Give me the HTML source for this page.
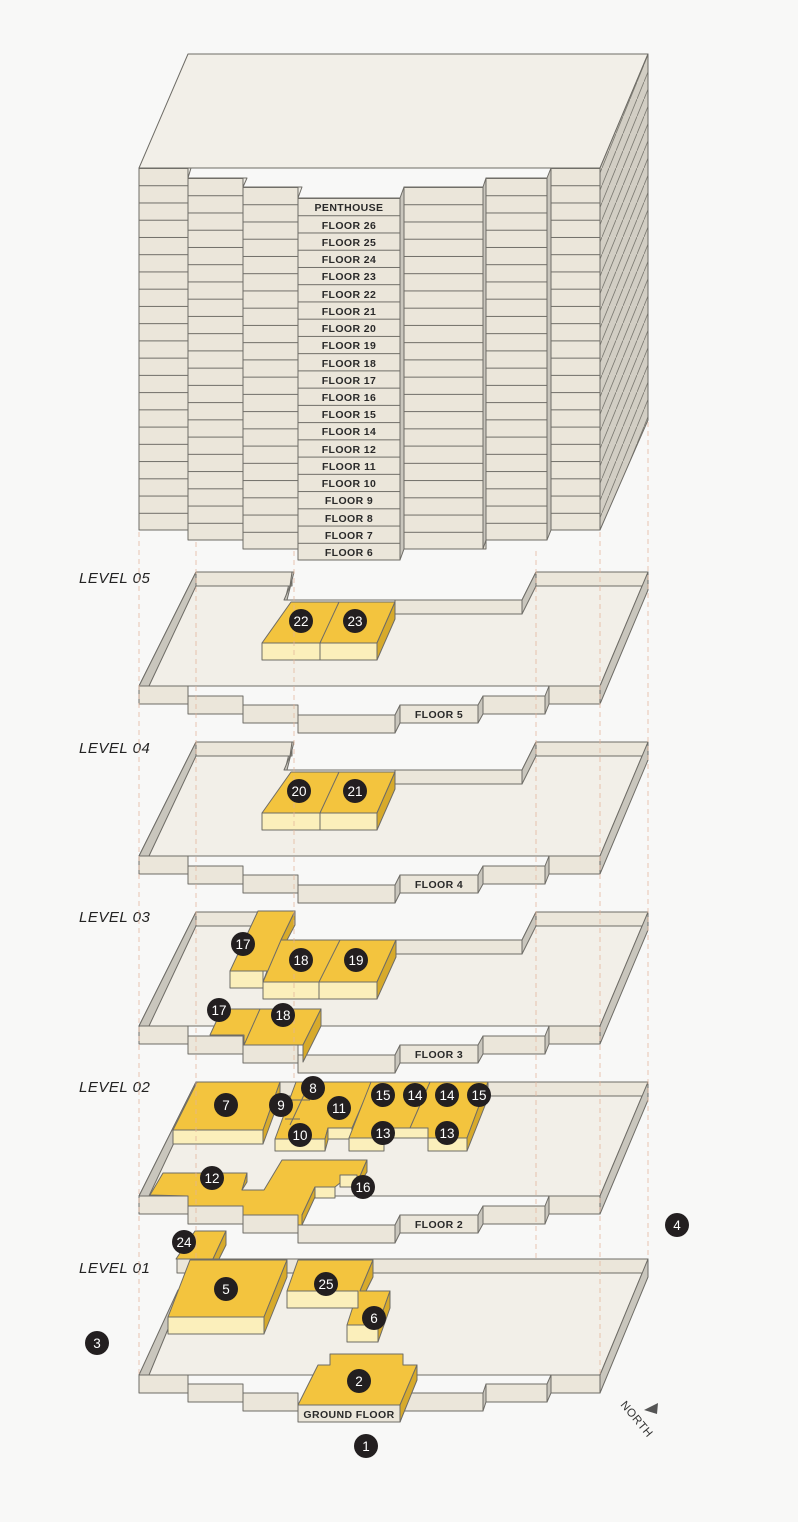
<!DOCTYPE html>
<html><head><meta charset="utf-8"><style>
html,body{margin:0;padding:0;background:#f8f8f7;}
svg{display:block;}
.s{stroke:#6e6c66;stroke-width:1;stroke-linejoin:round}
.fl{fill:#f2efe8}
.wf{fill:#ebe6da}
.sd{fill:#c9c6bd}
.yt{fill:#f3c43e}
.yf{fill:#fbefbb}
.ys{fill:#d7aa2b}
.lab{font-family:"Liberation Sans",sans-serif;font-weight:bold;font-size:10.5px;fill:#2a2a2a;text-anchor:middle;letter-spacing:0.4px}
.lv{font-family:"Liberation Sans",sans-serif;font-style:italic;font-size:15px;fill:#222;letter-spacing:0.5px}
.bn{font-family:"Liberation Sans",sans-serif;font-size:13.5px;fill:#fff;text-anchor:middle}
.dash{stroke:#e2b49a;stroke-width:1;stroke-dasharray:5 4;fill:none}
</style></head><body>
<svg width="798" height="1522" viewBox="0 0 798 1522" xmlns="http://www.w3.org/2000/svg">
<defs>
<pattern id="rA" patternUnits="userSpaceOnUse" width="10" height="17.24" y="168"><rect width="10" height="17.24" fill="#ebe6da"/><line x1="0" y1="0.5" x2="10" y2="0.5" stroke="#6e6c66"/></pattern>
<pattern id="rB" patternUnits="userSpaceOnUse" width="10" height="17.24" y="178"><rect width="10" height="17.24" fill="#ebe6da"/><line x1="0" y1="0.5" x2="10" y2="0.5" stroke="#6e6c66"/></pattern>
<pattern id="rC" patternUnits="userSpaceOnUse" width="10" height="17.24" y="187"><rect width="10" height="17.24" fill="#ebe6da"/><line x1="0" y1="0.5" x2="10" y2="0.5" stroke="#6e6c66"/></pattern>
<pattern id="rD" patternUnits="userSpaceOnUse" width="10" height="17.24" y="198"><rect width="10" height="17.24" fill="#ebe6da"/><line x1="0" y1="0.5" x2="10" y2="0.5" stroke="#6e6c66"/></pattern>
<pattern id="hatch" patternUnits="userSpaceOnUse" width="7" height="17.24" y="168"><rect width="7" height="17.24" fill="#d2cec4"/><line x1="0" y1="17.24" x2="7" y2="0" stroke="#7a7870" stroke-width="0.8"/></pattern>
</defs>

<!-- TOWER -->
<polygon class="s fl" points="139,168 188,54 648,54 600,168"/>
<polygon class="s" fill="url(#hatch)" points="600,168 648,54 648,420 600,530"/>
<rect class="s" fill="url(#rA)" x="139" y="168" width="49" height="362"/>
<rect class="s" fill="url(#rB)" x="188" y="178" width="55" height="362"/>
<rect class="s" fill="url(#rC)" x="243" y="187" width="55" height="362"/>
<rect class="s" fill="url(#rD)" x="298" y="198" width="102" height="362"/>
<polygon class="s sd" points="400,198 404,187 404,549 400,560"/>
<rect class="s" fill="url(#rC)" x="404" y="187" width="82" height="362"/>
<polygon class="s sd" points="483,187 486,178 486,540 483,549"/>
<rect class="s" fill="url(#rB)" x="486" y="178" width="61" height="362"/>
<polygon class="s sd" points="547,178 551,168 551,530 547,540"/>
<rect class="s" fill="url(#rA)" x="551" y="168" width="49" height="362"/>
<polygon class="s fl" points="188,168 191,168 188,178"/>
<polygon class="s fl" points="243,178 247,178 243,187"/>
<polygon class="s fl" points="298,187 302,187 298,198"/>
<g class="lab">
<text x="349" y="211">PENTHOUSE</text>
<text x="349" y="229">FLOOR 26</text>
<text x="349" y="246">FLOOR 25</text>
<text x="349" y="263">FLOOR 24</text>
<text x="349" y="280">FLOOR 23</text>
<text x="349" y="298">FLOOR 22</text>
<text x="349" y="315">FLOOR 21</text>
<text x="349" y="332">FLOOR 20</text>
<text x="349" y="349">FLOOR 19</text>
<text x="349" y="367">FLOOR 18</text>
<text x="349" y="384">FLOOR 17</text>
<text x="349" y="401">FLOOR 16</text>
<text x="349" y="418">FLOOR 15</text>
<text x="349" y="435">FLOOR 14</text>
<text x="349" y="453">FLOOR 12</text>
<text x="349" y="470">FLOOR 11</text>
<text x="349" y="487">FLOOR 10</text>
<text x="349" y="504">FLOOR 9</text>
<text x="349" y="522">FLOOR 8</text>
<text x="349" y="539">FLOOR 7</text>
<text x="349" y="556">FLOOR 6</text>
</g>

<!-- PLATE L05 -->
<g>
<polygon class="s fl" points="139,686 196,572 292,572 285,600 522,600 536,572 648,572 600,686"/>
<polygon class="s sd" points="139,686 196,572 196,586 149,686"/>
<rect class="s wf" x="196" y="572" width="96" height="14"/>
<polygon class="s sd" points="292,572 294,572 287,600 284,600 290,586"/>
<rect class="s wf" x="395" y="600" width="127" height="14"/>
<polygon class="s sd" points="522,614 522,600 536,572 536,586"/>
<rect class="s wf" x="536" y="572" width="112" height="14"/>
<polygon class="s sd" points="600,704 600,686 648,572 648,590"/>
<rect class="s wf" x="139" y="686" width="49" height="18"/>
<rect class="s wf" x="188" y="696" width="55" height="18"/>
<rect class="s wf" x="243" y="705" width="55" height="18"/>
<rect class="s wf" x="298" y="715" width="97" height="18"/>
<polygon class="s sd" points="395,733 395,715 400,705 400,723"/>
<rect class="s wf" x="400" y="705" width="78" height="18"/>
<polygon class="s sd" points="478,723 478,705 483,696 483,714"/>
<rect class="s wf" x="483" y="696" width="62" height="18"/>
<polygon class="s sd" points="545,714 545,696 549,686 549,704"/>
<rect class="s wf" x="549" y="686" width="51" height="18"/>
</g>
<text class="lab" x="439" y="718">FLOOR 5</text>
<text class="lv" x="79" y="583">LEVEL 05</text>

<!-- PLATE L04 -->
<g transform="translate(0,170)">
<polygon class="s fl" points="139,686 196,572 292,572 285,600 522,600 536,572 648,572 600,686"/>
<polygon class="s sd" points="139,686 196,572 196,586 149,686"/>
<rect class="s wf" x="196" y="572" width="96" height="14"/>
<polygon class="s sd" points="292,572 294,572 287,600 284,600 290,586"/>
<rect class="s wf" x="395" y="600" width="127" height="14"/>
<polygon class="s sd" points="522,614 522,600 536,572 536,586"/>
<rect class="s wf" x="536" y="572" width="112" height="14"/>
<polygon class="s sd" points="600,704 600,686 648,572 648,590"/>
<rect class="s wf" x="139" y="686" width="49" height="18"/>
<rect class="s wf" x="188" y="696" width="55" height="18"/>
<rect class="s wf" x="243" y="705" width="55" height="18"/>
<rect class="s wf" x="298" y="715" width="97" height="18"/>
<polygon class="s sd" points="395,733 395,715 400,705 400,723"/>
<rect class="s wf" x="400" y="705" width="78" height="18"/>
<polygon class="s sd" points="478,723 478,705 483,696 483,714"/>
<rect class="s wf" x="483" y="696" width="62" height="18"/>
<polygon class="s sd" points="545,714 545,696 549,686 549,704"/>
<rect class="s wf" x="549" y="686" width="51" height="18"/>
<text class="lab" x="439" y="718">FLOOR 4</text>
</g>
<text class="lv" x="79" y="753">LEVEL 04</text>

<!-- PLATE L03 -->
<g transform="translate(0,340)">
<polygon class="s fl" points="139,686 196,572 292,572 285,600 522,600 536,572 648,572 600,686"/>
<polygon class="s sd" points="139,686 196,572 196,586 149,686"/>
<rect class="s wf" x="196" y="572" width="96" height="14"/>
<polygon class="s sd" points="292,572 294,572 287,600 284,600 290,586"/>
<rect class="s wf" x="395" y="600" width="127" height="14"/>
<polygon class="s sd" points="522,614 522,600 536,572 536,586"/>
<rect class="s wf" x="536" y="572" width="112" height="14"/>
<polygon class="s sd" points="600,704 600,686 648,572 648,590"/>
<rect class="s wf" x="139" y="686" width="49" height="18"/>
<rect class="s wf" x="188" y="696" width="55" height="18"/>
<rect class="s wf" x="243" y="705" width="55" height="18"/>
<rect class="s wf" x="298" y="715" width="97" height="18"/>
<polygon class="s sd" points="395,733 395,715 400,705 400,723"/>
<rect class="s wf" x="400" y="705" width="78" height="18"/>
<polygon class="s sd" points="478,723 478,705 483,696 483,714"/>
<rect class="s wf" x="483" y="696" width="62" height="18"/>
<polygon class="s sd" points="545,714 545,696 549,686 549,704"/>
<rect class="s wf" x="549" y="686" width="51" height="18"/>
<text class="lab" x="439" y="718">FLOOR 3</text>
</g>
<text class="lv" x="79" y="922">LEVEL 03</text>

<!-- PLATE L02 -->
<g transform="translate(0,510)">
<polygon class="s fl" points="139,686 196,572 648,572 600,686"/>
<polygon class="s sd" points="139,686 196,572 196,586 149,686"/>
<rect class="s wf" x="196" y="572" width="452" height="14"/>
<polygon class="s sd" points="600,704 600,686 648,572 648,590"/>
<rect class="s wf" x="139" y="686" width="49" height="18"/>
<rect class="s wf" x="188" y="696" width="55" height="18"/>
<rect class="s wf" x="243" y="705" width="55" height="18"/>
<rect class="s wf" x="298" y="715" width="97" height="18"/>
<polygon class="s sd" points="395,733 395,715 400,705 400,723"/>
<rect class="s wf" x="400" y="705" width="78" height="18"/>
<polygon class="s sd" points="478,723 478,705 483,696 483,714"/>
<rect class="s wf" x="483" y="696" width="62" height="18"/>
<polygon class="s sd" points="545,714 545,696 549,686 549,704"/>
<rect class="s wf" x="549" y="686" width="51" height="18"/>
<text class="lab" x="439" y="718">FLOOR 2</text>
</g>
<text class="lv" x="79" y="1092">LEVEL 02</text>

<!-- PLATE L01 -->
<polygon class="s fl" points="139,1375 188,1273 188,1259 648,1259 600,1375"/>
<polygon class="s sd" points="139,1375 178,1290 180,1300 149,1375"/>
<rect class="s wf" x="177" y="1259" width="471" height="14"/>
<polygon class="s sd" points="600,1393 600,1375 648,1259 648,1277"/>
<rect class="s wf" x="139" y="1375" width="49" height="18"/>
<rect class="s wf" x="188" y="1384" width="55" height="18"/>
<rect class="s wf" x="243" y="1393" width="55" height="18"/>
<rect class="s wf" x="298" y="1405" width="102" height="17"/>
<polygon class="s sd" points="400,1422 400,1405 404,1393 404,1411"/>
<rect class="s wf" x="404" y="1393" width="79" height="18"/>
<polygon class="s sd" points="483,1411 483,1393 486,1384 486,1402"/>
<rect class="s wf" x="486" y="1384" width="61" height="18"/>
<polygon class="s sd" points="547,1402 547,1384 551,1375 551,1393"/>
<rect class="s wf" x="551" y="1375" width="49" height="18"/>
<text class="lv" x="79" y="1273">LEVEL 01</text>

<!-- UNITS L05 / L04 -->
<g>
<polygon class="s yt" points="291,602 395,602 377,643 262,643"/>
<rect class="s yf" x="262" y="643" width="115" height="17"/>
<polygon class="s ys" points="377,643 395,602 395,619 377,660"/>
<line class="s" x1="339" y1="602" x2="320" y2="643"/><line class="s" x1="320" y1="643" x2="320" y2="660"/>
</g>
<g transform="translate(0,170)">
<polygon class="s yt" points="291,602 395,602 377,643 262,643"/>
<rect class="s yf" x="262" y="643" width="115" height="17"/>
<polygon class="s ys" points="377,643 395,602 395,619 377,660"/>
<line class="s" x1="339" y1="602" x2="320" y2="643"/><line class="s" x1="320" y1="643" x2="320" y2="660"/>
</g>

<!-- UNITS L03 -->
<polygon class="s yt" points="258,911 295,911 281,940 396,940 377,982 263,982 267,971 230,971"/>
<rect class="s yf" x="230" y="971" width="33" height="17"/>
<rect class="s yf" x="263" y="982" width="114" height="17"/>
<polygon class="s ys" points="377,982 396,940 396,957 377,999"/>
<polygon class="s ys" points="281,940 295,911 295,925 287,940"/>
<line class="s" x1="340" y1="940" x2="319" y2="982"/><line class="s" x1="319" y1="982" x2="319" y2="999"/>
<line class="s" x1="281" y1="940" x2="263" y2="982"/>
<polygon class="s yt" points="222,1009 321,1009 303,1045 244,1045 244,1035 210,1035"/>
<polygon class="s ys" points="303,1045 321,1009 321,1026 303,1062"/>
<line class="s" x1="260" y1="1009" x2="244" y2="1045"/>

<!-- UNITS L02 -->
<polygon class="s yt" points="197,1082 280,1082 263,1130 173,1130"/>
<rect class="s yf" x="173" y="1130" width="90" height="14"/>
<polygon class="s ys" points="263,1130 280,1082 280,1098 263,1144"/>
<polygon class="s yt" points="296,1082 372,1082 352,1128 328,1128 325,1139 275,1139"/>
<rect class="s yf" x="275" y="1139" width="50" height="12"/>
<rect class="s yf" x="328" y="1128" width="24" height="11"/>
<polygon class="s ys" points="325,1139 328,1128 328,1140 325,1151"/>
<line class="s" x1="290" y1="1100" x2="310" y2="1100"/>
<line class="s" x1="310" y1="1082" x2="290" y2="1125"/>
<line class="s" x1="285" y1="1119" x2="300" y2="1119"/>
<polygon class="s yt" points="371,1082 488,1082 467,1138 428,1138 428,1128 384,1128 384,1138 349,1138"/>
<rect class="s yf" x="349" y="1138" width="35" height="13"/>
<rect class="s yf" x="428" y="1138" width="39" height="13"/>
<rect class="s yf" x="384" y="1128" width="44" height="10"/>
<polygon class="s ys" points="467,1138 488,1082 488,1098 467,1151"/>
<line class="s" x1="430" y1="1082" x2="410" y2="1128"/>
<polygon class="s yt" points="150,1195 163,1173 247,1173 242,1190 264,1190 282,1160 367,1160 357,1183 340,1183 335,1187 315,1187 302,1215 302,1225 298,1225 298,1215 243,1215 243,1206 188,1206 188,1196"/>
<rect class="s yf" x="315" y="1187" width="20" height="11"/>
<rect class="s yf" x="340" y="1175" width="17" height="12"/>
<polygon class="s ys" points="357,1183 367,1160 367,1172 357,1187"/>
<polygon class="s ys" points="302,1225 315,1197 315,1187 302,1215"/>
<polygon class="s ys" points="242,1190 247,1173 247,1182"/>

<!-- UNITS L01 -->
<polygon class="s yt" points="195,1231 226,1231 213,1259 176,1259"/>
<polygon class="s ys" points="213,1259 226,1231 226,1245 219,1259"/>
<polygon class="s yt" points="190,1260 287,1260 264,1317 168,1317"/>
<rect class="s yf" x="168" y="1317" width="96" height="17"/>
<polygon class="s ys" points="264,1317 287,1260 287,1277 264,1334"/>
<polygon class="s yt" points="298,1260 373,1260 360,1291 390,1291 378,1325 347,1325 358,1291 287,1291"/>
<rect class="s yf" x="287" y="1291" width="71" height="17"/>
<rect class="s yf" x="347" y="1325" width="31" height="17"/>
<polygon class="s ys" points="378,1325 390,1291 390,1308 378,1342"/>
<polygon class="s ys" points="360,1291 373,1260 373,1277 366,1291"/>
<polygon class="s yt" points="330,1354 403,1354 403,1365 417,1365 400,1405 298,1405 318,1365 330,1365"/>
<polygon class="s ys" points="400,1405 417,1365 417,1380 400,1422"/>
<text class="lab" x="349" y="1418">GROUND FLOOR</text>

<!-- dashed guides -->
<g class="dash" opacity="0.75">
<line x1="139" y1="532" x2="139" y2="1375"/>
<line x1="196" y1="542" x2="196" y2="1259"/>
<line x1="294" y1="551" x2="294" y2="1082"/>
<line x1="536" y1="551" x2="536" y2="1259"/>
<line x1="600" y1="532" x2="600" y2="1375"/>
<line x1="648" y1="422" x2="648" y2="1259"/>
</g>

<!-- badges -->
<g>
<circle cx="301" cy="621" r="12" fill="#231f20"/><text class="bn" x="301" y="626">22</text>
<circle cx="355" cy="621" r="12" fill="#231f20"/><text class="bn" x="355" y="626">23</text>
<circle cx="299" cy="791" r="12" fill="#231f20"/><text class="bn" x="299" y="796">20</text>
<circle cx="355" cy="791" r="12" fill="#231f20"/><text class="bn" x="355" y="796">21</text>
<circle cx="243" cy="944" r="12" fill="#231f20"/><text class="bn" x="243" y="949">17</text>
<circle cx="301" cy="960" r="12" fill="#231f20"/><text class="bn" x="301" y="965">18</text>
<circle cx="356" cy="960" r="12" fill="#231f20"/><text class="bn" x="356" y="965">19</text>
<circle cx="219" cy="1010" r="12" fill="#231f20"/><text class="bn" x="219" y="1015">17</text>
<circle cx="283" cy="1015" r="12" fill="#231f20"/><text class="bn" x="283" y="1020">18</text>
<circle cx="226" cy="1105" r="12" fill="#231f20"/><text class="bn" x="226" y="1110">7</text>
<circle cx="313" cy="1088" r="12" fill="#231f20"/><text class="bn" x="313" y="1093">8</text>
<circle cx="281" cy="1105" r="12" fill="#231f20"/><text class="bn" x="281" y="1110">9</text>
<circle cx="300" cy="1135" r="12" fill="#231f20"/><text class="bn" x="300" y="1140">10</text>
<circle cx="339" cy="1108" r="12" fill="#231f20"/><text class="bn" x="339" y="1113">11</text>
<circle cx="383" cy="1095" r="12" fill="#231f20"/><text class="bn" x="383" y="1100">15</text>
<circle cx="415" cy="1095" r="12" fill="#231f20"/><text class="bn" x="415" y="1100">14</text>
<circle cx="447" cy="1095" r="12" fill="#231f20"/><text class="bn" x="447" y="1100">14</text>
<circle cx="479" cy="1095" r="12" fill="#231f20"/><text class="bn" x="479" y="1100">15</text>
<circle cx="383" cy="1133" r="12" fill="#231f20"/><text class="bn" x="383" y="1138">13</text>
<circle cx="447" cy="1133" r="12" fill="#231f20"/><text class="bn" x="447" y="1138">13</text>
<circle cx="212" cy="1178" r="12" fill="#231f20"/><text class="bn" x="212" y="1183">12</text>
<circle cx="363" cy="1187" r="12" fill="#231f20"/><text class="bn" x="363" y="1192">16</text>
<circle cx="184" cy="1242" r="12" fill="#231f20"/><text class="bn" x="184" y="1247">24</text>
<circle cx="226" cy="1289" r="12" fill="#231f20"/><text class="bn" x="226" y="1294">5</text>
<circle cx="326" cy="1284" r="12" fill="#231f20"/><text class="bn" x="326" y="1289">25</text>
<circle cx="374" cy="1318" r="12" fill="#231f20"/><text class="bn" x="374" y="1323">6</text>
<circle cx="359" cy="1381" r="12" fill="#231f20"/><text class="bn" x="359" y="1386">2</text>
<circle cx="366" cy="1446" r="12" fill="#231f20"/><text class="bn" x="366" y="1451">1</text>
<circle cx="97" cy="1343" r="12" fill="#231f20"/><text class="bn" x="97" y="1348">3</text>
<circle cx="677" cy="1225" r="12" fill="#231f20"/><text class="bn" x="677" y="1230">4</text>
</g>

<!-- north -->
<text x="0" y="0" transform="translate(620,1405) rotate(50)" font-family="Liberation Sans, sans-serif" font-size="11.5" fill="#333" letter-spacing="0.5">NORTH</text>
<polygon points="644,1410 658,1403 657,1414" fill="#555"/>
</svg>
</body></html>
